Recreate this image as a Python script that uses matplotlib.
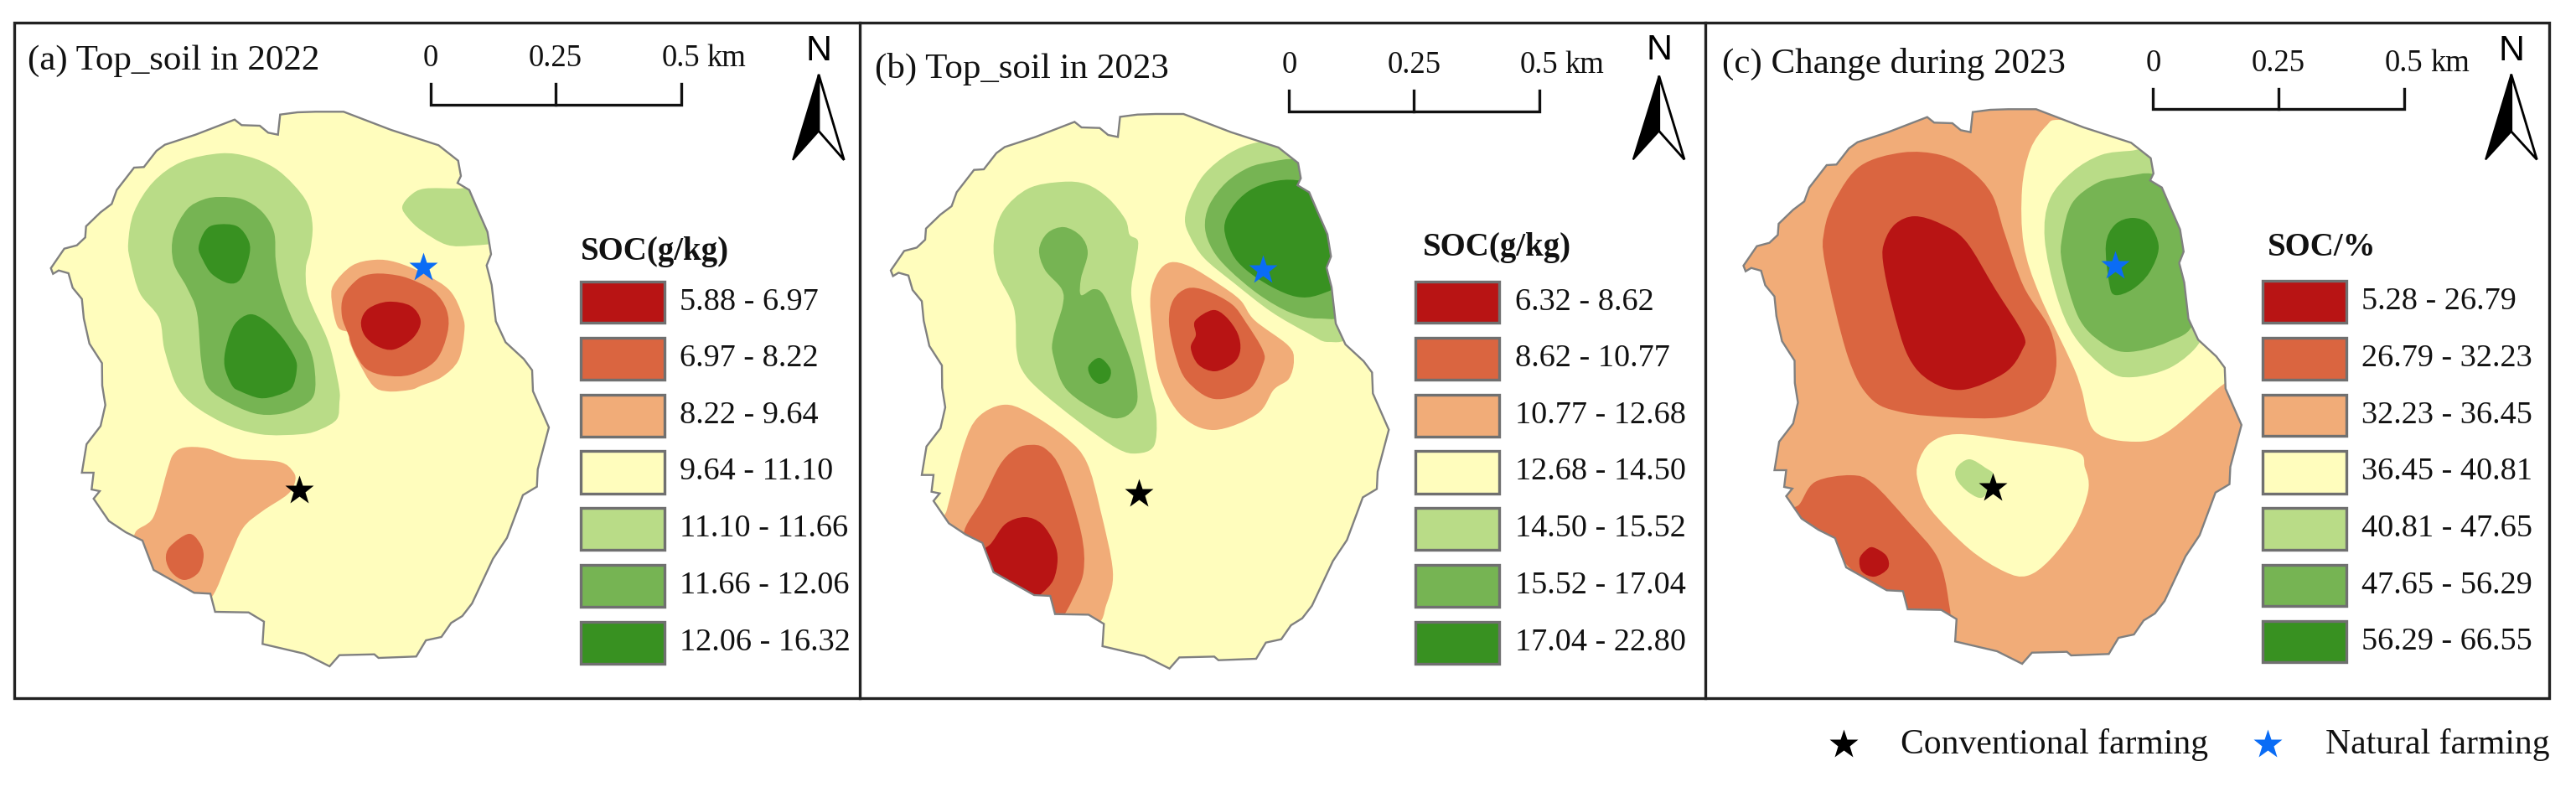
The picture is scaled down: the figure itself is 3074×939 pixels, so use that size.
import matplotlib
matplotlib.use("Agg")
import matplotlib.pyplot as plt
from matplotlib.path import Path
from matplotlib.patches import PathPatch, Polygon, Rectangle
import numpy as np

plt.rcParams["font.family"] = ["Liberation Serif", "DejaVu Serif"]

RED = "#b81414"
ORED = "#da6540"
ORANGE = "#f1ac78"
YELLOW = "#fffdbd"
PALE = "#b9dc87"
MID = "#76b453"
DARK = "#389121"
class_colors = [RED, ORED, ORANGE, YELLOW, PALE, MID, DARK]

labels_a = ["5.88 - 6.97", "6.97 - 8.22", "8.22 - 9.64", "9.64 - 11.10", "11.10 - 11.66", "11.66 - 12.06", "12.06 - 16.32"]
labels_b = ["6.32 - 8.62", "8.62 - 10.77", "10.77 - 12.68", "12.68 - 14.50", "14.50 - 15.52", "15.52 - 17.04", "17.04 - 22.80"]
labels_c = ["5.28 - 26.79", "26.79 - 32.23", "32.23 - 36.45", "36.45 - 40.81", "40.81 - 47.65", "47.65 - 56.29", "56.29 - 66.55"]

# farm outline (pixels)
outline = [(60.7,320),(76.7,296.7),(91.7,292.7),(101.7,283.3),(102.7,270),(120,253.3),(133.3,243.3),(139.3,226.7),(160,200),(171.7,199.3),
           (186.7,180),(196.7,172.7),(233.3,160.7),(280,142.7),(288.3,149.3),(310,150),(320,158.3),(331.7,160.7),(334.3,136.7),(355,134),
           (376.7,133.3),(410,133.3),(466.7,155),(523.3,173.3),(546.7,191.7),(550,210),(546,218.3),(560,226.7),(570,250),(581.7,276.7),
           (586,303.3),(580.7,316.7),(586.7,340),(591.7,383.3),(603.3,408.3),(625,428.3),(635,441.7),(636,466.7),(655,510),(641.7,560),
           (640.7,580.7),(624,590.7),(605,641.7),(588.3,666.7),(563.3,720),(551.7,735),(538.3,743.3),(526.7,760),(508.3,764),(496.7,783.3),
           (451.7,785),(446.7,780.7),(405,781.7),(393.3,795),(363.3,780),(313.3,768.3),(315,741.7),(296.7,730.7),(256.7,730),(251,708.3),
           (231.7,707.3),(183.3,680),(170,645),(150,635),(130,621.7),(111.7,595),(119,586),(109.3,584),(111.7,564),(97.7,564),
           (103.3,530),(120,508.3),(125.7,483.3),(122,460),(121.7,433.3),(106.7,410),(100,380),(97.7,356.7),(86.7,343.3),(81.7,326),
           (70,322.7),(63.3,326.7)]

# zones, panel a
a_pale_w = [(263,183),(297,187),(327,200),(350,220),(367,243),(373,270),(370,300),(365,320),(368,353),(390,403),(398,430),(405,465),(405,480),(402,500),(383,512),(360,518),(310,518),(263,503),(217,470),(197,420),(190,380),(167,350),(156,313),(153,290),(160,253),(183,217),(217,193)]
a_mid_w = [(263,235),(290,238),(313,253),(327,277),(329,310),(335,343),(350,383),(367,410),(375,437),(375,470),(360,485),(333,494),(303,493),(267,477),(247,460),(240,430),(235,373),(223,343),(207,313),(207,280),(223,250),(243,238)]
a_dark_1 = [(258,268),(283,270),(297,288),(297,307),(287,333),(273,338),(253,327),(242,310),(237,295),(245,275)]
a_dark_2 = [(298,375),(317,383),(337,403),(352,427),(354,442),(348,463),(330,472),(310,475),(287,467),(277,460),(268,437),(270,413),(280,387)]
a_pale_ne = [(507,225),(547,225),(570,225),(590,263),(600,287),(563,293),(533,292),(503,275),(487,260),(480,247),(490,233)]
a_orange_c = [(447,310),(473,313),(507,327),(537,347),(552,377),(554,397),(547,430),(527,450),(503,460),(490,465),(463,467),(445,460),(427,430),(417,407),(417,397),(403,390),(396,360),(398,340),(420,317)]
a_ored_c = [(463,327),(487,332),(517,347),(533,370),(534,397),(520,430),(490,447),(460,448),(437,440),(423,420),(416,400),(408,377),(410,353),(427,333),(443,327)]
a_red_c = [(463,360),(490,365),(502,383),(493,403),(470,417),(450,413),(435,400),(431,383),(440,368)]
a_orange_sw = [(220,534),(247,535),(283,547),(333,551),(350,563),(352,575),(343,590),(313,610),(290,630),(273,667),(253,712),(230,725),(175,695),(160,640),(183,617),(200,560),(207,542)]
a_ored_sw = [(225,637),(238,647),(243,663),(237,683),(220,692),(205,683),(198,667),(203,652)]

# zones, panel b
b_pale_w = [(1267,217),(1297,220),(1323,237),(1343,262),(1348,280),(1358,288),(1355,315),(1350,352),(1360,402),(1373,465),(1380,498),(1377,532),(1357,541),(1333,535),(1287,503),(1240,465),(1220,442),(1213,418),(1210,368),(1190,325),(1186,288),(1197,252),(1227,225)]
b_mid_w = [(1270,271),(1290,282),(1298,302),(1290,332),(1290,352),(1305,345),(1317,352),(1333,388),(1350,432),(1357,465),(1355,485),(1340,498),(1317,495),(1273,465),(1257,425),(1257,402),(1268,365),(1267,345),(1247,322),(1240,298),(1250,278)]
b_dark_w = [(1312,427),(1325,440),(1323,453),(1312,458),(1302,450),(1299,437)]
b_pale_ne = [(1500,170),(1535,170),(1565,195),(1585,258),(1600,305),(1610,395),(1585,408),(1560,397),(1517,372),(1473,338),(1437,308),(1420,282),(1414,262),(1420,238),(1437,208),(1467,183)]
b_mid_ne = [(1517,193),(1545,190),(1570,200),(1585,258),(1600,305),(1610,372),(1573,380),(1540,373),(1503,352),(1467,322),(1447,298),(1438,272),(1443,245),(1463,218),(1490,200)]
b_dark_ne = [(1517,217),(1547,215),(1580,225),(1595,272),(1605,305),(1605,335),(1573,352),(1547,354),(1517,342),(1487,322),(1470,302),(1461,272),(1470,248),(1490,228)]
b_orange_c = [(1397,313),(1420,318),(1453,338),(1480,358),(1497,382),(1537,412),(1544,430),(1538,452),(1520,465),(1500,494),(1449,513),(1410,496),(1384,450),(1375,392),(1373,352),(1382,325)]
b_ored_c = [(1417,344),(1440,347),(1470,363),(1487,385),(1507,418),(1507,435),(1490,465),(1449,476),(1417,455),(1403,425),(1395,385),(1400,358)]
b_red_c = [(1447,370),(1463,378),(1477,398),(1480,418),(1472,433),(1450,443),(1430,435),(1421,415),(1427,400),(1426,383)]
b_orange_sw = [(1197,483),(1227,492),(1273,523),(1297,552),(1313,608),(1328,682),(1320,722),(1307,745),(1253,745),(1180,678),(1123,628),(1130,608),(1150,532),(1167,498)]
b_ored_sw = [(1227,531),(1247,535),(1267,562),(1290,635),(1293,682),(1280,715),(1267,738),(1257,745),(1173,668),(1150,638),(1173,595),(1193,555),(1210,537)]
b_red_sw = [(1223,617),(1243,625),(1258,648),(1262,668),(1257,692),(1243,708),(1227,718),(1180,695),(1170,662),(1183,648),(1200,625)]

# zones, panel c
c_ored_w = [(2270,182),(2316,185),(2350,202),(2377,232),(2392,278),(2415,342),(2446,392),(2454,432),(2446,465),(2427,485),(2388,498),(2331,498),(2270,492),(2232,475),(2205,425),(2178,315),(2177,275),(2190,238),(2220,198)]
c_red_w = [(2285,258),(2316,267),(2346,288),(2381,345),(2414,398),(2413,418),(2392,445),(2343,465),(2304,455),(2277,425),(2258,365),(2247,312),(2249,288),(2262,267)]
c_yellow_ne = [(2457,143),(2511,150),(2550,165),(2575,192),(2580,212),(2612,292),(2620,378),(2636,408),(2660,435),(2666,448),(2645,465),(2587,515),(2549,527),(2500,515),(2484,465),(2473,435),(2434,352),(2415,292),(2413,225),(2423,178),(2442,150)]
c_pale_ne = [(2542,180),(2565,180),(2580,212),(2612,298),(2620,382),(2625,408),(2591,438),(2545,450),(2515,442),(2476,402),(2454,352),(2440,285),(2446,238),(2473,205),(2507,185)]
c_mid_ne = [(2534,211),(2570,208),(2590,232),(2612,298),(2618,382),(2587,408),(2538,420),(2507,408),(2480,378),(2461,315),(2461,282),(2473,242),(2503,218)]
c_dark_ne = [(2545,260),(2565,268),(2576,295),(2565,325),(2545,345),(2524,352),(2517,338),(2513,292),(2524,268)]
c_ored_sw = [(2209,567),(2235,577),(2277,622),(2312,665),(2325,715),(2323,745),(2277,745),(2180,650),(2132,612),(2147,602),(2166,575)]
c_red_sw = [(2235,653),(2251,663),(2253,678),(2237,688),(2222,682),(2219,667),(2226,657)]
c_yellow_c = [(2335,518),(2396,525),(2476,538),(2488,558),(2492,585),(2476,628),(2446,668),(2419,687),(2392,682),(2350,655),(2304,608),(2289,575),(2289,552),(2304,528)]
c_pale_c = [(2350,548),(2369,558),(2379,568),(2367,593),(2350,588),(2335,572),(2335,558)]


def smooth_path(pts):
    # closed curve through the traced points
    n = len(pts)
    p = np.array(pts, dtype=float)
    verts = [p[0]]
    codes = [Path.MOVETO]
    for i in range(n):
        p0, p1, p2, p3 = p[i - 1], p[i], p[(i + 1) % n], p[(i + 2) % n]
        verts += [p1 + (p2 - p0) / 6, p2 - (p3 - p1) / 6, p2]
        codes += [Path.CURVE4] * 3
    return Path(verts, codes)


def draw_panel(ax, x0, sx, sy, dx, dy, base, zones, title, title_xy, bar, bar_y, north, legend_x, legend_ys, legend_title, legend_title_xy, label_x, labels, black, blue):
    def tr(pts):
        return [(x0 + x / sx, y / sy) for x, y in pts]

    # same outline in every panel, only moved
    shape = [(x + dx, y + dy) for x, y in outline]
    clip = Polygon(shape, closed=True, facecolor=base, edgecolor="none", zorder=1)
    ax.add_patch(clip)
    for pts, col in zones:
        patch = PathPatch(smooth_path(pts), facecolor=col, edgecolor="none", zorder=2)
        ax.add_patch(patch)
        patch.set_clip_path(clip)
    ax.add_patch(Polygon(shape, closed=True, facecolor="none", edgecolor="#808080", linewidth=1.7, zorder=3))

    ax.text(*tr([title_xy])[0], title, fontsize=31, ha="left", va="center", color="#111111")

    # scale bar
    (bx0, by0), (bx1, by1), (bx2, _) = tr([(bar[0], bar_y[0]), (bar[1], bar_y[1]), (bar[2], bar_y[1])])
    ax.plot([bx0, bx0, bx2, bx2], [by0, by1, by1, by0], color="#111111", lw=2.4, zorder=4, solid_joinstyle="miter")
    ax.plot([bx1, bx1], [by0, by1], color="#111111", lw=2.4, zorder=4)
    ty = by0 - 30
    ax.text(bx0, ty, "0", fontsize=26.5, ha="center", va="center", color="#111111")
    ax.text(bx1, ty, "0.25", fontsize=26.5, ha="center", va="center", color="#111111")
    ax.text(bx2, ty, "0.5", fontsize=26.5, ha="center", va="center", color="#111111")
    ax.text(bx2 + 31, ty, "km", fontsize=26.5, ha="left", va="center", color="#111111")

    # north arrow
    nx, ny, top, left, right, bottom, notch = north
    ax.text(*tr([(nx, ny)])[0], "N", fontsize=31, ha="center", va="center", family="Liberation Sans")
    apex = tr([(nx, top)])[0]
    lft = tr([(left, bottom)])[0]
    rgt = tr([(right, bottom)])[0]
    nch = tr([(nx, notch)])[0]
    ax.add_patch(Polygon([apex, lft, nch], closed=True, facecolor="black", edgecolor="black", lw=1.5, zorder=4))
    ax.add_patch(Polygon([apex, rgt, nch], closed=True, facecolor="white", edgecolor="black", lw=2, zorder=4))

    # legend
    ax.text(*tr([legend_title_xy])[0], legend_title, fontsize=28, fontweight="bold", ha="left", va="center", color="#111111")
    for (y0, y1), col, lab in zip(legend_ys, class_colors, labels):
        (lx0, ly0), (lx1, ly1) = tr([(legend_x[0], y0), (legend_x[1], y1)])
        ax.add_patch(Rectangle((lx0, ly0), lx1 - lx0, ly1 - ly0, facecolor=col, edgecolor="#707070", lw=2.4, zorder=4))
        ax.text(tr([(label_x, 0)])[0][0], (ly0 + ly1) / 2, lab, fontsize=27.5, ha="left", va="center", color="#111111")

    ax.plot(black[0], black[1], marker="*", ms=26, color="black", mec="none", zorder=5)
    ax.plot(blue[0], blue[1], marker="*", ms=26, color="#0a6cf5", mec="none", zorder=5)


fig = plt.figure(figsize=(30.74, 9.39), dpi=100)
ax = fig.add_axes([0, 0, 1, 1])
ax.set_xlim(0, 3074)
ax.set_ylim(939, 0)
ax.axis("off")

# frames
ax.add_patch(Rectangle((16.5, 26.5), 3025.5, 806.5, facecolor="none", edgecolor="#222222", lw=2.4, zorder=6))
ax.plot([1026, 1026], [26.5, 833], color="#222222", lw=2.4, zorder=6)
ax.plot([2035, 2035], [26.5, 833], color="#222222", lw=2.4, zorder=6)

legend_ys_ab = [(612, 702), (735, 825), (858, 950), (980, 1073), (1105, 1195), (1228, 1320), (1352, 1443)]
legend_ys_c = [(560, 643), (673, 756), (786, 869), (898, 983), (1012, 1095), (1125, 1208), (1237, 1320)]

draw_panel(ax, 0, 1.522, 1.823, 0, 0, YELLOW,
           [(a_pale_w, PALE), (a_mid_w, MID), (a_dark_1, DARK), (a_dark_2, DARK), (a_pale_ne, PALE),
            (a_orange_c, ORANGE), (a_ored_c, ORED), (a_red_c, RED), (a_orange_sw, ORANGE), (a_ored_sw, ORED)],
           "(a) Top_soil in 2022", (50, 133), (782, 1009, 1237), (182, 228),
           (1487, 112, 162, 1440, 1533, 348, 285),
           (1055, 1207), legend_ys_ab, "SOC(g/kg)", (1055, 547), 1235, labels_a, (357.3, 585), (505, 319))

draw_panel(ax, 1030, 1.552, 1.823, 1002.3, 2.7, YELLOW,
           [(b_pale_w, PALE), (b_mid_w, MID), (b_dark_w, DARK), (b_pale_ne, PALE), (b_mid_ne, MID), (b_dark_ne, DARK),
            (b_orange_c, ORANGE), (b_ored_c, ORED), (b_red_c, RED), (b_orange_sw, ORANGE), (b_ored_sw, ORED), (b_red_sw, RED)],
           "(b) Top_soil in 2023", (22, 150), (789, 1020, 1252), (197, 243),
           (1474, 110, 165, 1426, 1521, 347, 285),
           (1023, 1178), legend_ys_ab, "SOC(g/kg)", (1037, 538), 1207, labels_b, (1359, 589), (1506.7, 322))

draw_panel(ax, 2030, 1.502, 1.67, 2019.8, -3, ORANGE,
           [(c_ored_w, ORED), (c_red_w, RED), (c_yellow_ne, YELLOW), (c_pale_ne, PALE), (c_mid_ne, MID), (c_dark_ne, DARK),
            (c_ored_sw, ORED), (c_red_sw, RED), (c_yellow_c, YELLOW), (c_pale_c, PALE)],
           "(c) Change during 2023", (37, 127), (810, 1035, 1260), (177, 217),
           (1452, 102, 148, 1406, 1498, 318, 262),
           (1006, 1157), legend_ys_c, "SOC/%", (1015, 493), 1183, labels_c, (2378, 581.7), (2524.4, 316.7))

# bottom legend
ax.plot(2200, 888, marker="*", ms=26, color="black", mec="none")
ax.text(2268, 889, "Conventional farming", fontsize=30, ha="left", va="center", color="#111111")
ax.plot(2706, 888, marker="*", ms=26, color="#0a6cf5", mec="none")
ax.text(2775, 889, "Natural farming", fontsize=30, ha="left", va="center", color="#111111")

fig.savefig("out.png", dpi=100)
